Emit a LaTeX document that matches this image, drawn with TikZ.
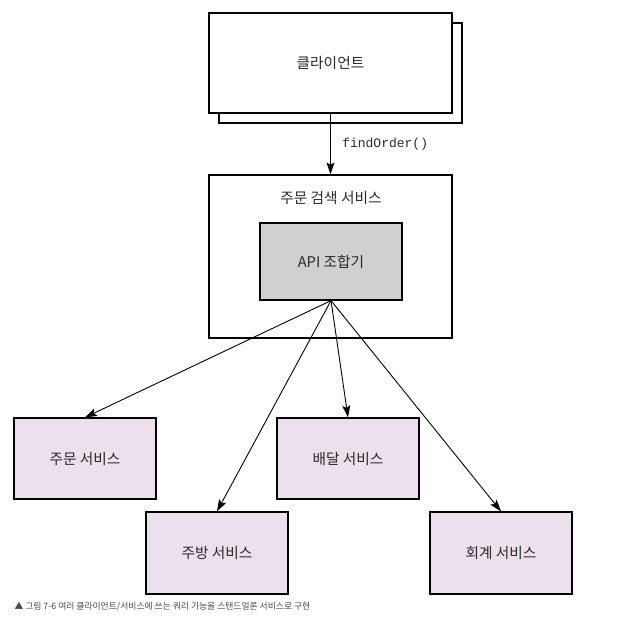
\documentclass[tikz,border=0pt]{standalone}
\usepackage{fontspec}
\setmainfont{Noto Sans CJK KR}
\setmonofont{Liberation Mono}
\usetikzlibrary{arrows.meta,positioning}
\usepackage{xcolor}
\definecolor{lila}{HTML}{ECE0EC}
\definecolor{gris}{HTML}{D0D0D0}
\definecolor{texto}{HTML}{2A2A2A}

\begin{document}
\begin{tikzpicture}[
  x=1pt, y=-1pt,
  bloque/.style={rectangle, draw, line width=1.2pt, fill=white, inner sep=0pt, minimum width=243pt, font=\fontsize{14.7}{17}\selectfont, text=texto},
  servicio/.style={rectangle, draw, line width=1.2pt, fill=lila, inner sep=0pt, minimum width=142pt, minimum height=81pt, font=\fontsize{14.7}{17}\selectfont, text=texto},
  flecha/.style={-{Stealth[length=12pt, width=8pt, inset=2.5pt]}, line width=0.9pt}
]
\useasboundingbox (0,0) rectangle (620,619);
\node[bloque, minimum height=100pt] (sombra) at (340.5,73) {};
\node[bloque, minimum height=100pt] (cliente) at (330.5,63) {클라이언트};
\node[bloque, minimum height=163pt] (busqueda) at (330.5,256.5) {};
\node[font=\fontsize{14.7}{17}\selectfont, text=texto] (titulo) at (331,198) {주문 검색 서비스};
\node[servicio, fill=gris, minimum height=77pt] (api) at (331,261.5) {API 조합기};
\node[servicio] (pedido) at (85,458.5) {주문 서비스};
\node[servicio] (entrega) at (348,458.5) {배달 서비스};
\node[servicio, minimum height=82pt] (cocina) at (217,553) {주방 서비스};
\node[servicio, minimum height=82pt] (cuenta) at (501,553) {회계 서비스};
\draw[flecha] (cliente) -- node[right=8pt, font=\ttfamily\fontsize{13}{15}\selectfont, text=texto] {findOrder()} (busqueda);
\foreach \destino in {pedido, cocina, entrega, cuenta}
  \draw[flecha] (api.south) -- (\destino.north);
\node[anchor=west, font=\fontsize{8.8}{10}\selectfont, text=texto!85] (pie) at (11,607) {▲ 그림 7-6 여러 클라이언트/서비스에 쓰는 쿼리 기능을 스탠드얼론 서비스로 구현};
\end{tikzpicture}
\end{document}
